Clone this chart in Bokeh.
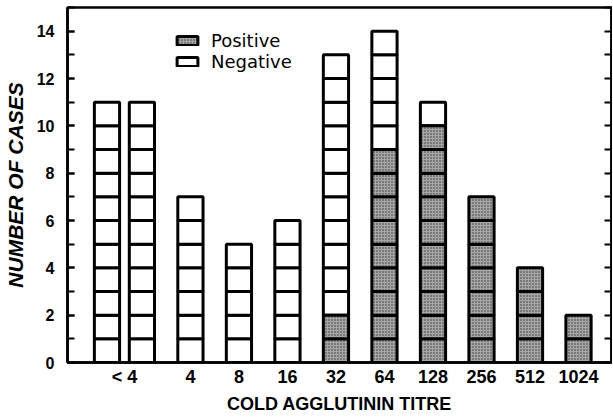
from bokeh.plotting import figure
from bokeh.models import (Range1d, LinearAxis, FixedTicker, SingleIntervalTicker,
                          Legend, LegendItem, ColumnDataSource)
from bokeh.embed import file_html
from bokeh.resources import INLINE

# ---- data (one entry per drawn column; "< 4" has two columns) ----
column_titre = ["< 4", "< 4", "4", "8", "16", "32", "64", "128", "256", "512", "1024"]
positive = [0, 0, 0, 0, 0, 2, 9, 10, 7, 4, 2]
negative = [11, 11, 7, 5, 6, 11, 5, 1, 0, 0, 0]

# ---- layout constants ----
SEP = 0.72      # spacing between columns of the same titre
BAR_W = 0.52

groups = []
for t in column_titre:
    if t not in groups:
        groups.append(t)
cursor = 0.0
col_x = []
group_x = {}
for g in groups:
    n = column_titre.count(g)
    group_x[g] = cursor + (n - 1) * SEP / 2
    for k in range(n):
        col_x.append(cursor + k * SEP)
    cursor += (n - 1) * SEP + 1

pos = dict(left=[], right=[], bottom=[], top=[])
neg = dict(left=[], right=[], bottom=[], top=[])
for x, p_n, n_n in zip(col_x, positive, negative):
    for i in range(p_n + n_n):
        d = pos if i < p_n else neg
        d["left"].append(x - BAR_W / 2)
        d["right"].append(x + BAR_W / 2)
        d["bottom"].append(i)
        d["top"].append(i + 1)

p = figure(width=612, height=416, output_backend="svg", toolbar_location=None,
           x_range=Range1d(-0.814, 10.40), y_range=Range1d(0, 15),
           min_border_left=67, min_border_right=1, min_border_top=7, min_border_bottom=54)
p.xgrid.visible = False
p.ygrid.visible = False
p.outline_line_color = "black"
p.outline_line_width = 2.5

FONT = "Liberation Sans"
r_neg = p.quad(source=ColumnDataSource(neg), left="left", right="right", bottom="bottom", top="top",
               fill_color="white", line_color="black", line_width=3)
r_pos = p.quad(source=ColumnDataSource(pos), left="left", right="right", bottom="bottom", top="top",
               fill_color="#a6a6a6", line_color="black", line_width=3,
               hatch_pattern="dot", hatch_scale=3, hatch_weight=1, hatch_color="#333333")

# y axis (left)
ya = p.yaxis[0]
ya.ticker = SingleIntervalTicker(interval=2, num_minor_ticks=2)
ya.major_tick_in = 7
ya.major_tick_out = 0
ya.minor_tick_in = 7
ya.minor_tick_out = 0
ya.axis_line_width = 2.5
ya.major_tick_line_width = 2
ya.minor_tick_line_width = 2
ya.major_label_text_font = FONT
ya.major_label_text_font_style = "bold"
ya.major_label_text_font_size = "16px"
ya.major_label_text_color = "black"
ya.major_label_standoff = 13
ya.axis_label = "NUMBER OF CASES"
ya.axis_label_text_font = FONT
ya.axis_label_text_font_style = "bold italic"
ya.axis_label_text_font_size = "21px"
ya.axis_label_text_color = "black"
ya.axis_label_standoff = 7

# right axis: inward ticks at every case, no labels
ra = LinearAxis(ticker=SingleIntervalTicker(interval=1, num_minor_ticks=0),
                major_tick_in=7, major_tick_out=0, major_tick_line_width=2,
                minor_tick_in=0, minor_tick_out=0,
                axis_line_width=2.5, major_label_text_font_size="1px",
                major_label_text_color=None, major_label_text_alpha=0,
                major_label_standoff=0)
p.add_layout(ra, "right")

# x axis
xa = p.xaxis[0]
xa.ticker = FixedTicker(ticks=[group_x[g] for g in groups])
xa.major_label_overrides = {group_x[g]: g for g in groups}
xa.major_tick_in = 0
xa.major_tick_out = 0
xa.minor_tick_in = 0
xa.minor_tick_out = 0
xa.axis_line_width = 2.5
xa.major_label_text_font = FONT
xa.major_label_text_font_style = "bold"
xa.major_label_text_font_size = "18px"
xa.major_label_text_color = "black"
xa.major_label_standoff = 4
xa.axis_label = "COLD AGGLUTININ TITRE"
xa.axis_label_text_font = FONT
xa.axis_label_text_font_style = "bold"
xa.axis_label_text_font_size = "18px"
xa.axis_label_text_color = "black"
xa.axis_label_standoff = 4

legend = Legend(items=[LegendItem(label="Positive", renderers=[r_pos]),
                       LegendItem(label="Negative", renderers=[r_neg])],
                location=(107, 290), padding=0, margin=0, spacing=-2,
                glyph_width=26, glyph_height=11, label_height=18, label_standoff=11,
                label_text_font="DejaVu Sans", label_text_font_size="18px",
                label_text_color="black",
                border_line_color=None, background_fill_alpha=0)
p.add_layout(legend)

open("out.html", "w").write(file_html(p, INLINE))
